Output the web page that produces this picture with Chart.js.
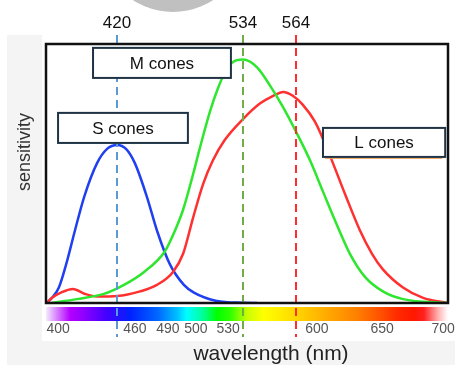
<!DOCTYPE html>
<html lang="en">
<head>
  <meta charset="UTF-8" />
  <title>Cone sensitivity</title>
  <script src="https://cdn.jsdelivr.net/npm/chart.js"></script>
  <style>
    * { margin: 0; padding: 0; box-sizing: border-box; }
    body { background: #fff; width: 455px; height: 365px; overflow: hidden; }
  </style>
</head>
<body>
  <canvas id="coneChart" width="455" height="365"></canvas>

  <script>
    // x = position along the spectrum strip (0 = left edge, 100 = right edge)
    const sConeX = [0.2, 1.5, 3.2, 5.2, 7.2, 9.5, 12.7, 15.2, 17.7, 19.9, 22.1, 25.1, 27.6, 30.8, 34.3, 36.8, 42.5, 49.0, 52.5];
    const sConeY = [0, 0.02, 0.06, 0.16, 0.28, 0.41, 0.54, 0.595, 0.61, 0.595, 0.54, 0.41, 0.28, 0.15, 0.07, 0.04, 0.008, 0.001, 0];

    const mConeX = [1.2, 7.7, 14.4, 19.4, 24.4, 29.6, 32.1, 34.1, 36.3, 38.3, 40.8, 42.8, 44.5, 46.5, 49.0, 52.5, 55.7, 59.0, 62.4, 65.7, 68.9, 72.4, 75.6, 79.4, 83.8, 88.8, 99.8];
    const mConeY = [0, 0.015, 0.035, 0.07, 0.12, 0.20, 0.28, 0.36, 0.48, 0.60, 0.74, 0.83, 0.89, 0.93, 0.94, 0.91, 0.84, 0.755, 0.655, 0.55, 0.43, 0.30, 0.19, 0.10, 0.045, 0.015, 0];

    const lConeX = [0.2, 1.5, 3.7, 6.7, 9.7, 12.7, 17.7, 23.4, 27.6, 31.6, 34.1, 36.6, 39.1, 41.5, 44.5, 49.0, 53.2, 56.5, 59.0, 61.4, 63.9, 66.9, 70.6, 74.4, 78.1, 81.1, 83.8, 88.8, 93.8, 99.8];
    const lConeY = [0, 0.02, 0.04, 0.054, 0.035, 0.025, 0.027, 0.045, 0.07, 0.12, 0.19, 0.33, 0.46, 0.55, 0.63, 0.71, 0.77, 0.80, 0.815, 0.80, 0.765, 0.70, 0.57, 0.42, 0.28, 0.19, 0.13, 0.06, 0.02, 0];

    // wavelength labels under the spectrum strip
    const tickPositions = [3.0, 22.1, 30.3, 37.3, 45.3, 67.4, 83.6, 98.8];
    const tickLabels = ['400', '460', '490', '500', '530', '600', '650', '700'];

    // peak markers (dashed lines)
    const peakPositions = [17.7, 49.0, 62.2];
    const peakLabels = ['420', '534', '564'];
    const peakColors = ['#5b9bd5', '#70ad47', '#ff2d2d'];

    const coneNames = ['S cones', 'M cones', 'L cones'];

    function toPoints(xs, ys) {
      return xs.map((x, i) => ({ x: x, y: ys[i] }));
    }

    // label boxes, in axis units: [x1, x2, yTop, yBottom]
    const boxes = [
      { text: coneNames[1], r: [11.7, 46.0, 0.985, 0.869] },
      { text: coneNames[0], r: [3.0, 35.3, 0.734, 0.618] },
      { text: coneNames[2], r: [68.9, 99.3, 0.676, 0.564], underline: true }
    ];

    const FONT = "'Liberation Sans', Arial, sans-serif";

    const decor = {
      id: 'decor',
      beforeDraw(chart) {
        const ctx = chart.ctx, a = chart.chartArea;
        ctx.save();
        ctx.fillStyle = '#fff';
        ctx.fillRect(0, 0, chart.width, chart.height);
        ctx.fillStyle = '#f4f4f4';
        ctx.fillRect(7, 35, chart.width - 7, chart.height - 35);
        ctx.fillStyle = '#fff';
        ctx.fillRect(42, 35, chart.width - 42, 306);

        // grey shape at the top edge
        ctx.fillStyle = '#c0c0c0';
        ctx.beginPath();
        ctx.arc(173, -62, 74, 0, Math.PI * 2);
        ctx.fill();

        // spectrum strip
        const g = ctx.createLinearGradient(a.left, 0, a.right, 0);
        const stops = [
          [0, '#f4ecfc'], [0.06, '#b400ff'], [0.085, '#9900ff'], [0.15, '#4400ff'],
          [0.21, '#0022ff'], [0.277, '#0066ff'], [0.327, '#00c0ff'], [0.35, '#00ffff'],
          [0.39, '#00ff99'], [0.426, '#00ff00'], [0.46, '#33ff00'], [0.5, '#c8ff00'],
          [0.541, '#ffff00'], [0.59, '#ffe800'], [0.64, '#ffcc00'], [0.708, '#ffa500'],
          [0.775, '#ff7f00'], [0.833, '#ff5000'], [0.875, '#ff2a00'], [0.915, '#ff1800'],
          [0.94, '#ff2020'], [0.975, '#ffb0b0'], [1, '#ffffff']
        ];
        stops.forEach(s => g.addColorStop(s[0], s[1]));
        ctx.fillStyle = g;
        ctx.fillRect(a.left, a.bottom + 4, a.right - a.left, 14);
        ctx.restore();
      },
      afterDatasetsDraw(chart) {
        const ctx = chart.ctx, a = chart.chartArea;
        const xs = chart.scales.x, ys = chart.scales.y;
        ctx.save();

        // tick labels under the strip
        ctx.font = '14px ' + FONT;
        ctx.fillStyle = '#555';
        ctx.textAlign = 'center';
        ctx.textBaseline = 'middle';
        tickPositions.forEach((p, i) => {
          ctx.fillText(tickLabels[i], xs.getPixelForValue(p), a.bottom + 26);
        });

        // dashed peak lines + labels
        peakPositions.forEach((p, i) => {
          const x = Math.round(xs.getPixelForValue(p));
          ctx.strokeStyle = peakColors[i];
          ctx.lineWidth = 2;
          ctx.setLineDash([8, 5]);
          ctx.beginPath();
          ctx.moveTo(x, a.top - 9);
          ctx.lineTo(x, a.bottom + 34);
          ctx.stroke();
          ctx.setLineDash([]);
          ctx.fillStyle = '#111';
          ctx.font = '17px ' + FONT;
          ctx.fillText(peakLabels[i], x, a.top - 21);
        });

        // plot frame
        ctx.strokeStyle = '#111';
        ctx.lineWidth = 2.5;
        ctx.strokeRect(a.left, a.top, a.right - a.left, a.bottom - a.top);

        // cone label boxes
        boxes.forEach(b => {
          const x1 = xs.getPixelForValue(b.r[0]), x2 = xs.getPixelForValue(b.r[1]);
          const y1 = ys.getPixelForValue(b.r[2]), y2 = ys.getPixelForValue(b.r[3]);
          ctx.fillStyle = '#fff';
          ctx.fillRect(x1, y1, x2 - x1, y2 - y1);
          if (b.underline) {
            ctx.strokeStyle = '#f4a460';
            ctx.lineWidth = 1;
            ctx.beginPath();
            ctx.moveTo(x1 + 2, y2 + 1.5);
            ctx.lineTo(x2 - 3, y2 + 1.5);
            ctx.stroke();
          }
          ctx.strokeStyle = '#1f3344';
          ctx.lineWidth = 2;
          ctx.strokeRect(x1, y1, x2 - x1, y2 - y1);
          ctx.fillStyle = '#111';
          ctx.font = '17px ' + FONT;
          ctx.fillText(b.text, (x1 + x2) / 2, (y1 + y2) / 2 + 1);
        });

        // axis titles
        ctx.fillStyle = '#222';
        ctx.font = '21px ' + FONT;
        ctx.fillText('wavelength (nm)', 271, 354);
        ctx.save();
        ctx.translate(25, 152);
        ctx.rotate(-Math.PI / 2);
        ctx.fillStyle = '#333';
        ctx.font = '18px ' + FONT;
        ctx.fillText('sensitivity', 0, 0);
        ctx.restore();

        ctx.restore();
      }
    };

    const lineStyle = {
      borderWidth: 2.5,
      pointRadius: 0,
      fill: false,
      cubicInterpolationMode: 'monotone'
    };

    new Chart(document.getElementById('coneChart').getContext('2d'), {
      type: 'line',
      data: {
        datasets: [
          Object.assign({ label: coneNames[1], data: toPoints(mConeX, mConeY), borderColor: '#2ee62e' }, lineStyle),
          Object.assign({ label: coneNames[2], data: toPoints(lConeX, lConeY), borderColor: '#ff3030' }, lineStyle),
          Object.assign({ label: coneNames[0], data: toPoints(sConeX, sConeY), borderColor: '#1f3ff0' }, lineStyle)
        ]
      },
      options: {
        responsive: false,
        animation: false,
        layout: { padding: { left: 46, right: 7, top: 44, bottom: 62 } },
        plugins: {
          legend: { display: false },
          tooltip: { enabled: false }
        },
        scales: {
          x: { type: 'linear', min: 0, max: 100, display: false },
          y: { type: 'linear', min: 0, max: 1, display: false }
        }
      },
      plugins: [decor]
    });
  </script>
</body>
</html>
